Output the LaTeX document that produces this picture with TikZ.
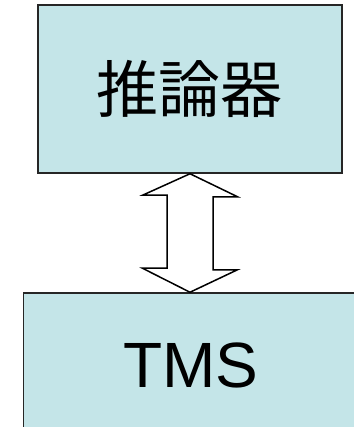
\documentclass[tikz,border=0pt]{standalone}
\usepackage{fontspec}
\setmainfont{Liberation Sans}
\newfontfamily\cjk{Noto Sans CJK JP}
\definecolor{boxfill}{RGB}{196,229,232}
\begin{document}
\begin{tikzpicture}[x=1bp,y=1bp]
            \useasboundingbox (0,0) rectangle (354,427);
            \clip (0,0) rectangle (354,427);
            \begin{scope}[every node/.style={draw=black!85,line width=1.5bp,fill=boxfill,inner sep=0pt}]
                \node[minimum width=304bp,minimum height=168bp] (reasoner) at (190,338) {\cjk\fontsize{62bp}{70bp}\selectfont 推論器};

                \node[minimum width=335bp,minimum height=144bp] (tms) at (191,62) {\fontsize{64bp}{70bp}\selectfont TMS};
            \end{scope}
                \draw [line width=1.5bp,fill=white] (reasoner.south) -- ++(47.5,-23) -- ++(-24.5,0) -- ++(0,-73) -- ++(24.5,0)
                    -- (reasoner.south |- tms.north) -- ++(-47.5,24) -- ++(24.5,0) -- ++(0,73) -- ++(-24.5,0) -- cycle;
            \end{tikzpicture}
\end{document}
